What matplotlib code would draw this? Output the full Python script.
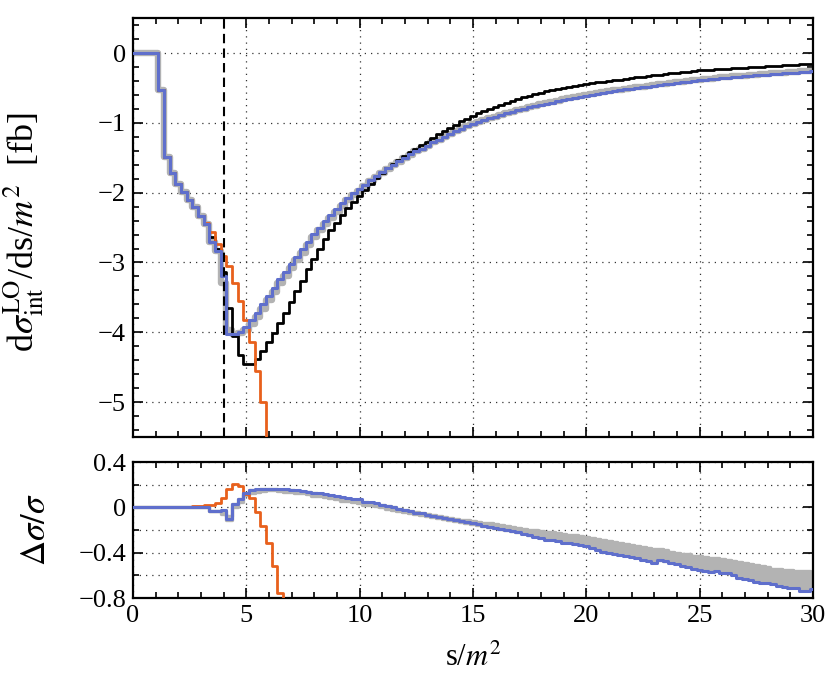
import numpy as np
import matplotlib
matplotlib.use("Agg")
import matplotlib.pyplot as plt
from matplotlib.ticker import MultipleLocator, FuncFormatter

plt.rcParams['font.family'] = ['Liberation Serif', 'DejaVu Serif']
plt.rcParams['mathtext.fontset'] = 'stix'

# bin centres in s/m^2 (width 0.25)
s = np.arange(0, 30.001, 0.25)

# upper panel: dsigma/ds
black_up = [0, 0, 0, 0, 0, -0.53, -1.49, -1.72, -1.87, -1.99,
            -2.10, -2.21, -2.33, -2.45, -2.63, -2.80, -3.14, -3.65, -4.06, -4.32,
            -4.46, -4.46, -4.38, -4.27, -4.14, -4.01, -3.86, -3.72, -3.57, -3.41,
            -3.26, -3.10, -2.95, -2.80, -2.66, -2.54, -2.43, -2.32, -2.22, -2.14,
            -2.05, -1.96, -1.87, -1.79, -1.72, -1.65, -1.59, -1.53, -1.47, -1.42,
            -1.37, -1.32, -1.27, -1.22, -1.16, -1.12, -1.07, -1.03, -0.98, -0.94,
            -0.90, -0.865, -0.83, -0.80, -0.77, -0.74, -0.71, -0.685, -0.66, -0.635,
            -0.61, -0.59, -0.57, -0.55, -0.53, -0.515, -0.50, -0.485, -0.47, -0.46,
            -0.45, -0.435, -0.42, -0.41, -0.40, -0.39, -0.38, -0.37, -0.36, -0.35,
            -0.34, -0.33, -0.32, -0.31, -0.30, -0.29, -0.28, -0.27, -0.265, -0.26,
            -0.25, -0.245, -0.24, -0.235, -0.23, -0.225, -0.22, -0.215, -0.21, -0.205,
            -0.20, -0.195, -0.19, -0.185, -0.18, -0.175, -0.17, -0.165, -0.16, -0.155,
            -0.15]

blue_up = [0, 0, 0, 0, 0, -0.53, -1.49, -1.72, -1.87, -1.99,
           -2.10, -2.21, -2.33, -2.45, -2.71, -2.83, -3.19, -4.02, -4.02, -3.99,
           -3.93, -3.83, -3.72, -3.60, -3.48, -3.36, -3.24, -3.13, -3.02, -2.92,
           -2.81, -2.70, -2.59, -2.50, -2.40, -2.32, -2.23, -2.15, -2.08, -2.01,
           -1.95, -1.89, -1.82, -1.76, -1.70, -1.65, -1.60, -1.55, -1.50, -1.45,
           -1.41, -1.37, -1.33, -1.28, -1.24, -1.20, -1.16, -1.12, -1.09, -1.05,
           -1.02, -0.99, -0.96, -0.935, -0.91, -0.885, -0.86, -0.84, -0.82, -0.80,
           -0.78, -0.76, -0.74, -0.725, -0.71, -0.69, -0.675, -0.66, -0.645, -0.63,
           -0.615, -0.60, -0.585, -0.57, -0.56, -0.545, -0.535, -0.52, -0.51, -0.50,
           -0.49, -0.48, -0.47, -0.46, -0.45, -0.44, -0.43, -0.42, -0.41, -0.40,
           -0.39, -0.383, -0.375, -0.367, -0.36, -0.353, -0.346, -0.34, -0.333, -0.327,
           -0.32, -0.314, -0.308, -0.302, -0.296, -0.29, -0.285, -0.28, -0.274, -0.269,
           -0.264]

gray_up = [0, 0, 0, 0, 0, -0.53, -1.49, -1.72, -1.87, -1.99,
           -2.10, -2.21, -2.33, -2.45, -2.71, -2.83, -3.29, -3.97, -4.02, -4.01,
           -3.97, -3.88, -3.78, -3.66, -3.54, -3.42, -3.30, -3.19, -3.08, -2.97,
           -2.86, -2.75, -2.64, -2.54, -2.45, -2.36, -2.27, -2.19, -2.11, -2.04,
           -1.97, -1.91, -1.84, -1.78, -1.72, -1.66, -1.61, -1.56, -1.51, -1.46,
           -1.41, -1.37, -1.33, -1.28, -1.24, -1.20, -1.16, -1.12, -1.09, -1.05,
           -1.02, -0.99, -0.96, -0.935, -0.91, -0.885, -0.86, -0.84, -0.815, -0.795,
           -0.775, -0.755, -0.735, -0.715, -0.70, -0.68, -0.665, -0.65, -0.635, -0.62,
           -0.605, -0.59, -0.575, -0.56, -0.55, -0.535, -0.525, -0.51, -0.50, -0.49,
           -0.48, -0.47, -0.46, -0.45, -0.44, -0.43, -0.42, -0.41, -0.40, -0.39,
           -0.38, -0.373, -0.365, -0.357, -0.35, -0.343, -0.336, -0.33, -0.323, -0.317,
           -0.31, -0.304, -0.298, -0.292, -0.286, -0.28, -0.275, -0.27, -0.264, -0.259,
           -0.254]

orange_up = [0, 0, 0, 0, 0, -0.53, -1.49, -1.72, -1.87, -1.99,
             -2.10, -2.21, -2.33, -2.43, -2.57, -2.74, -2.91, -3.05, -3.29, -3.55,
             -3.83, -4.14, -4.56, -5.0, -6.0, -7.0]

# lower panel: relative deviation
blue_lo = [0, 0, 0, 0, 0, 0, 0, 0, 0, 0,
           0, 0, 0, 0, -0.03, -0.03, -0.02, -0.10, 0.03, 0.07,
           0.13, 0.15, 0.16, 0.16, 0.165, 0.165, 0.16, 0.16, 0.155, 0.15,
           0.145, 0.14, 0.13, 0.125, 0.115, 0.11, 0.10, 0.09, 0.085, 0.07,
           0.075, 0.05, 0.045, 0.035, 0.025, 0.015, 0.0, -0.01, -0.02, -0.035,
           -0.05, -0.045, -0.07, -0.075, -0.085, -0.095, -0.105, -0.11, -0.12, -0.13,
           -0.14, -0.145, -0.16, -0.17, -0.18, -0.19, -0.20, -0.21, -0.22, -0.235,
           -0.245, -0.26, -0.27, -0.285, -0.29, -0.30, -0.31, -0.31, -0.32, -0.33,
           -0.345, -0.36, -0.38, -0.39, -0.40, -0.41, -0.42, -0.43, -0.44, -0.45,
           -0.46, -0.47, -0.49, -0.465, -0.475, -0.49, -0.50, -0.515, -0.53, -0.54,
           -0.55, -0.56, -0.57, -0.565, -0.575, -0.58, -0.60, -0.62, -0.63, -0.645,
           -0.655, -0.665, -0.67, -0.68, -0.69, -0.70, -0.71, -0.715, -0.735, -0.735,
           -0.72]

gray_lo_min = [0, 0, 0, 0, 0, 0, 0, 0, 0, 0,
               0, 0, 0, 0, -0.03, -0.03, -0.06, -0.11, 0.0, 0.05,
               0.11, 0.13, 0.14, 0.145, 0.15, 0.15, 0.145, 0.14, 0.135, 0.13,
               0.125, 0.115, 0.105, 0.10, 0.09, 0.08, 0.07, 0.06, 0.055, 0.045,
               0.035, 0.025, 0.02, 0.01, 0.0, -0.01, -0.02, -0.03, -0.04, -0.05,
               -0.06, -0.065, -0.08, -0.085, -0.095, -0.105, -0.115, -0.12, -0.13, -0.14,
               -0.145, -0.155, -0.16, -0.17, -0.18, -0.19, -0.20, -0.21, -0.22, -0.23,
               -0.24, -0.25, -0.265, -0.275, -0.28, -0.29, -0.30, -0.305, -0.315, -0.325,
               -0.335, -0.35, -0.365, -0.375, -0.385, -0.395, -0.405, -0.415, -0.425, -0.435,
               -0.445, -0.455, -0.465, -0.465, -0.475, -0.485, -0.495, -0.505, -0.515, -0.525,
               -0.535, -0.545, -0.55, -0.555, -0.565, -0.575, -0.59, -0.60, -0.615, -0.625,
               -0.635, -0.645, -0.655, -0.665, -0.675, -0.685, -0.695, -0.70, -0.71, -0.72,
               -0.72]

gray_lo_max = [0, 0, 0, 0, 0, 0, 0, 0, 0, 0,
               0, 0, 0, 0, -0.03, -0.03, -0.03, -0.08, 0.03, 0.07,
               0.13, 0.15, 0.155, 0.16, 0.16, 0.16, 0.155, 0.155, 0.15, 0.145,
               0.14, 0.135, 0.125, 0.12, 0.11, 0.10, 0.09, 0.08, 0.075, 0.065,
               0.06, 0.045, 0.04, 0.03, 0.02, 0.01, 0.0, -0.01, -0.02, -0.03,
               -0.04, -0.045, -0.06, -0.065, -0.075, -0.085, -0.095, -0.10, -0.11, -0.115,
               -0.12, -0.13, -0.135, -0.14, -0.15, -0.155, -0.165, -0.17, -0.18, -0.19,
               -0.195, -0.20, -0.21, -0.215, -0.22, -0.225, -0.235, -0.24, -0.245, -0.255,
               -0.26, -0.27, -0.28, -0.29, -0.30, -0.305, -0.315, -0.325, -0.335, -0.34,
               -0.35, -0.355, -0.365, -0.37, -0.38, -0.39, -0.40, -0.41, -0.415, -0.425,
               -0.43, -0.44, -0.445, -0.45, -0.455, -0.46, -0.47, -0.48, -0.49, -0.50,
               -0.51, -0.52, -0.53, -0.54, -0.545, -0.55, -0.555, -0.56, -0.565, -0.565,
               -0.57]

orange_lo = [0, 0, 0, 0, 0, 0, 0, 0, 0, 0,
             0.005, 0.01, 0.015, 0.02, 0.025, 0.04, 0.08, 0.16, 0.205, 0.19,
             0.12, 0.08, -0.04, -0.16, -0.31, -0.52, -0.76, -1.0]

c_black = 'black'
c_blue = '#5f6fcc'
c_orange = '#e8601c'
c_gray = '#b3b3b3'

fig = plt.figure(figsize=(8.3, 6.97), dpi=100)
ax1 = fig.add_axes([0.1602, 0.373, 0.8193, 0.601])
ax2 = fig.add_axes([0.1602, 0.142, 0.8193, 0.195])

grid_kw = dict(color='0.2', linestyle=(0, (1, 4)), linewidth=0.9)
minus = FuncFormatter(lambda v, p: f"{v:g}".replace('-', '\u2212'))

# ---- upper panel
ax1.plot(s, gray_up, drawstyle='steps-mid', color=c_gray, lw=4.6, zorder=2)
ax1.plot(s, black_up, drawstyle='steps-mid', color=c_black, lw=2.0, zorder=3)
ax1.plot(s[:len(orange_up)], orange_up, drawstyle='steps-mid', color=c_orange, lw=2.0, zorder=4)
ax1.plot(s, blue_up, drawstyle='steps-mid', color=c_blue, lw=2.2, zorder=5)
ax1.axvline(4, color='black', ls=(0, (4.5, 2.5)), lw=1.5, zorder=6)

ax1.set_xlim(0, 30)
ax1.set_ylim(-5.5, 0.5)
ax1.xaxis.set_major_locator(MultipleLocator(5))
ax1.xaxis.set_minor_locator(MultipleLocator(1))
ax1.yaxis.set_major_locator(MultipleLocator(1))
ax1.yaxis.set_minor_locator(MultipleLocator(0.2))
ax1.xaxis.grid(True, which='major', **grid_kw)
ax1.yaxis.grid(True, which='major', **grid_kw)
ax1.set_xticklabels([])
ax1.yaxis.set_major_formatter(minus)
ax1.set_ylabel(r'd$\sigma^{\rm LO}_{\rm int}$/ds/$m^2$  [fb]', fontsize=26)
ax1.yaxis.set_label_coords(-0.128, 0.49)

# ---- lower panel
ax2.fill_between(s, gray_lo_min, gray_lo_max, step='mid', color=c_gray, lw=0, zorder=2)
ax2.plot(s, gray_lo_min, drawstyle='steps-mid', color=c_gray, lw=2.4, zorder=2)
ax2.plot(s, gray_lo_max, drawstyle='steps-mid', color=c_gray, lw=2.4, zorder=2)
ax2.plot(s[:len(orange_lo)], orange_lo, drawstyle='steps-mid', color=c_orange, lw=2.0, zorder=4)
ax2.plot(s, blue_lo, drawstyle='steps-mid', color=c_blue, lw=2.2, zorder=5)

ax2.set_xlim(0, 30)
ax2.set_ylim(-0.8, 0.4)
ax2.xaxis.set_major_locator(MultipleLocator(5))
ax2.xaxis.set_minor_locator(MultipleLocator(1))
ax2.yaxis.set_major_locator(MultipleLocator(0.4))
ax2.yaxis.set_minor_locator(MultipleLocator(0.2))
ax2.xaxis.grid(True, which='major', **grid_kw)
ax2.yaxis.grid(True, which='both', **grid_kw)
ax2.yaxis.set_major_formatter(minus)
ax2.xaxis.set_major_formatter(minus)
ax2.set_ylabel(r'$\Delta\sigma/\sigma$', fontsize=25)
ax2.yaxis.set_label_coords(-0.118, 0.5)
ax2.set_xlabel(r's/$m^2$', fontsize=22, labelpad=12)

for ax in (ax1, ax2):
    ax.set_axisbelow(True)
    for sp in ax.spines.values():
        sp.set_linewidth(1.6)
    ax.tick_params(which='both', direction='in', top=True, right=True, labelsize=19, width=1.2, pad=5)
    ax.tick_params(which='major', length=7)
    ax.tick_params(which='minor', length=4)

fig.savefig('out.png', dpi=100)
